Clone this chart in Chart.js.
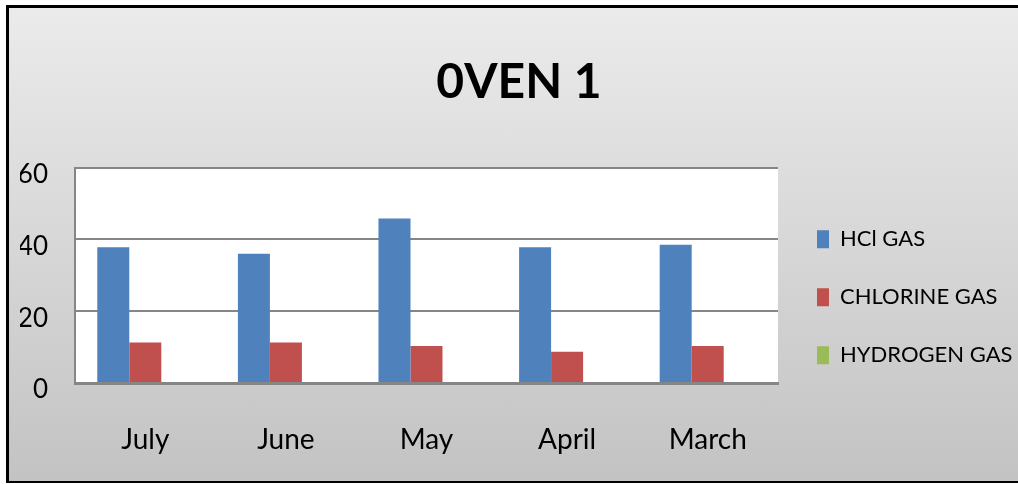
<!DOCTYPE html>
<html>
<head>
<meta charset="utf-8">
<script src="https://cdn.jsdelivr.net/npm/chart.js@4.4.0/dist/chart.umd.min.js"></script>
<style>
  html, body { margin: 0; padding: 0; background: #fff; }
  #frame {
    position: absolute; left: 6px; top: 5px; width: 1030px; height: 473px;
    border-top: 3px solid #000; border-left: 3px solid #000; border-bottom: 2px solid #000;
    background: linear-gradient(#ebebeb, #c3c3c3);
  }
  #wrap { position: absolute; left: 0; top: 0; width: 1018px; height: 484px; }
</style>
</head>
<body>
<div id="frame"></div>
<div id="wrap"><canvas id="ovenChart"></canvas></div>
<script>
// data
const months = ['July', 'June', 'May', 'April', 'March'];
const hclGas = [37.8, 36, 45.8, 37.8, 38.5];
const chlorineGas = [11.3, 11.3, 10.3, 8.7, 10.3];
const hydrogenGas = [0, 0, 0, 0, 0];
const yTicks = [0, 20, 40, 60];

Chart.defaults.font.family = 'Lato, "DejaVu Sans Condensed", sans-serif';
Chart.defaults.color = '#000';

// white plot area on the grey background
const plotBg = {
    id: 'plotBg',
    beforeDraw(chart) {
        const { ctx, chartArea: a } = chart;
        ctx.save();
        ctx.fillStyle = '#fff';
        ctx.fillRect(a.left, a.top, a.right - a.left, a.bottom - a.top);
        ctx.restore();
    }
};

// move the legend a bit right and down, like the original
const legendNudge = {
    id: 'legendNudge',
    afterLayout(chart) {
        const lg = chart.legend;
        lg.left += 3; lg.right += 3;
        lg.top += 22; lg.bottom += 22;
    }
};

const ctx = document.getElementById('ovenChart').getContext('2d');
new Chart(ctx, {
    type: 'bar',
    data: {
        labels: months,
        datasets: [
            { label: 'HCl GAS', data: hclGas, backgroundColor: '#4f81bd' },
            { label: 'CHLORINE GAS', data: chlorineGas, backgroundColor: '#c0504d' },
            { label: 'HYDROGEN GAS', data: hydrogenGas, backgroundColor: '#9bbb59' }
        ]
    },
    options: {
        responsive: true,
        maintainAspectRatio: false,
        animation: false,
        datasets: {
            bar: { categoryPercentage: 0.683, barPercentage: 1 }
        },
        layout: {
            padding: { left: 20, right: 0, top: 0, bottom: 27 }
        },
        scales: {
            x: {
                afterFit: s => { s.height = 74; },
                grid: { display: false, drawTicks: false },
                border: { display: true, color: '#868686', width: 3 },
                ticks: { padding: 40, font: { size: 28 } }
            },
            y: {
                min: 0,
                max: 60,
                afterBuildTicks: s => { s.ticks = yTicks.map(v => ({ value: v })); },
                afterFit: s => { s.width = 55; },
                grid: { color: '#868686', lineWidth: 2, drawTicks: false },
                border: { display: true, color: '#868686', width: 2 },
                ticks: { padding: 27, labelOffset: 7, font: { size: 26 } }
            }
        },
        plugins: {
            title: {
                display: true,
                text: '0VEN 1',
                font: { size: 48, weight: 'bold' },
                padding: { top: 54, bottom: 56 }
            },
            legend: {
                position: 'right',
                fullSize: false,
                maxWidth: 240,
                labels: {
                    boxWidth: 12,
                    boxHeight: 18,
                    padding: 36,
                    font: { size: 22 }
                }
            },
            tooltip: { enabled: false }
        }
    },
    plugins: [plotBg, legendNudge]
});
</script>
</body>
</html>
